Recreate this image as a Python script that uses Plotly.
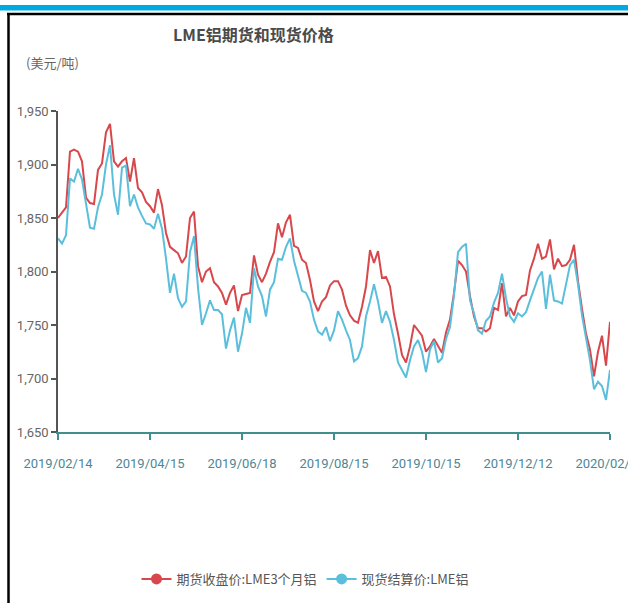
import plotly.graph_objects as go

# ---- data ----
futures_lme3m = [
    1850, 1855, 1860, 1912, 1914, 1912, 1903, 1869, 1864, 1863,
    1895, 1901, 1930, 1938, 1903, 1898, 1903, 1906, 1884, 1906,
    1878, 1874, 1865, 1861, 1855, 1877, 1862, 1836, 1823, 1820,
    1817, 1808, 1814, 1850, 1856, 1805, 1790, 1800, 1803, 1790,
    1786, 1780, 1769, 1780, 1787, 1763, 1778, 1779, 1780, 1815,
    1797, 1790, 1798, 1809, 1818, 1845, 1832, 1846, 1853, 1824,
    1822, 1811, 1808, 1792, 1772, 1763, 1772, 1776, 1787, 1791,
    1791, 1783, 1768, 1759, 1754, 1752, 1767, 1786, 1820, 1808,
    1819, 1794, 1795, 1786, 1760, 1742, 1722, 1715, 1730, 1750,
    1745, 1740, 1725, 1730, 1737, 1730, 1724, 1743, 1755, 1780,
    1810, 1806, 1800, 1777, 1758, 1747, 1747, 1744, 1747, 1766,
    1764, 1789, 1758, 1766, 1759, 1772, 1777, 1778, 1801, 1812,
    1826, 1812, 1814, 1830, 1802, 1812, 1805, 1806, 1811, 1825,
    1791, 1765, 1742, 1727, 1702, 1725, 1740, 1712, 1753,
]
spot_lme = [
    1831, 1826, 1834, 1887, 1884, 1896, 1886, 1864, 1841, 1840,
    1860, 1872, 1900, 1918, 1872, 1853, 1897, 1899, 1861, 1872,
    1860, 1852, 1845, 1844, 1840, 1854, 1840, 1812, 1780, 1798,
    1775, 1767, 1772, 1818, 1833, 1785, 1750, 1761, 1773, 1764,
    1764, 1760, 1728, 1745, 1757, 1725, 1742, 1766, 1752, 1803,
    1786, 1777, 1758, 1783, 1790, 1812, 1811, 1823, 1831, 1810,
    1797, 1782, 1780, 1772, 1755, 1744, 1741, 1748, 1735, 1745,
    1763, 1755, 1745, 1736, 1716, 1719, 1730, 1758, 1772, 1788,
    1772, 1752, 1763, 1753, 1736, 1715, 1708, 1701, 1717, 1730,
    1736, 1725, 1706, 1727, 1735, 1715, 1719, 1737, 1748, 1778,
    1818, 1823, 1826, 1773, 1761, 1745, 1742, 1754, 1758, 1771,
    1780, 1798, 1775, 1758, 1753, 1761, 1758, 1762, 1773, 1784,
    1794, 1800, 1765, 1797, 1773, 1772, 1770, 1788, 1806, 1811,
    1788, 1759, 1739, 1717, 1690, 1697, 1693, 1680, 1708,
]
tick_positions = [0, 23, 46, 69, 92, 115, 138]
tick_labels = ["2019/02/14", "2019/04/15", "2019/06/18", "2019/08/15",
               "2019/10/15", "2019/12/12", "2020/02/13"]
y_ticks = [1650, 1700, 1750, 1800, 1850, 1900, 1950]

series_names = ["期货收盘价:LME3个月铝", "现货结算价:LME铝"]
title_text = "LME铝期货和现货价格"
unit_text = "(美元/吨)"

RED = "#d8474b"
BLUE = "#5bbfdc"
CJK = "Noto Sans CJK SC"
NUM = "Roboto, sans-serif"

x_idx = list(range(len(futures_lme3m)))

fig = go.Figure()
for name, vals, col in [(series_names[0], futures_lme3m, RED),
                        (series_names[1], spot_lme, BLUE)]:
    fig.add_trace(go.Scatter(x=x_idx, y=vals, mode="lines", name=name,
                             line=dict(color=col, width=2), showlegend=False,
                             hoverinfo="x+y"))
for name, col in [(series_names[0], RED), (series_names[1], BLUE)]:
    fig.add_trace(go.Scatter(x=[None], y=[None], mode="lines+markers", name=name,
                             line=dict(color=col, width=2),
                             marker=dict(color=col, size=11)))

W, H = 628, 603
L, R, T, B = 58, 18, 111, 171
pw, ph = W - L - R, H - T - B


def px(x):
    return (x - L) / pw


def py(y):
    return (H - B - y) / ph


fig.update_layout(
    width=W, height=H,
    margin=dict(l=L, r=R, t=T, b=B, autoexpand=False),
    paper_bgcolor="white", plot_bgcolor="white",
    showlegend=True,
    legend=dict(orientation="h", x=px(305), xanchor="center", y=py(579), yanchor="middle",
                font=dict(family=CJK, size=13, color="#555555"),
                itemwidth=30, traceorder="normal", bgcolor="rgba(0,0,0,0)"),
    xaxis=dict(range=[0, 138], showgrid=False, zeroline=False,
               tickmode="array", tickvals=tick_positions, ticktext=tick_labels,
               showline=True, linecolor="#3f8f8f", linewidth=2,
               ticks="outside", ticklen=6, tickcolor="#3f8f8f", tickwidth=1.5,
               ticklabelstandoff=12, ticklabeloverflow="allow",
               tickfont=dict(family=NUM, size=13, color="#4d8796")),
    yaxis=dict(range=[1650, 1950], showgrid=False, zeroline=False,
               tickmode="array", tickvals=y_ticks, tickformat=",",
               showline=True, linecolor="#555555", linewidth=1.5,
               ticks="outside", ticklen=5, tickcolor="#555555", tickwidth=1.5,
               tickfont=dict(family=NUM, size=13, color="#666666")),
    annotations=[
        dict(text=title_text, xref="paper", yref="paper", x=px(253), y=py(34),
             xanchor="center", yanchor="middle", showarrow=False,
             font=dict(family=CJK, size=16, color="#4a4a4a", weight="bold")),
        dict(text=unit_text, xref="paper", yref="paper", x=px(24), y=py(62),
             xanchor="left", yanchor="middle", showarrow=False,
             font=dict(family=CJK, size=13, color="#666666")),
    ],
    shapes=[
        dict(type="rect", xref="paper", yref="paper", x0=px(0), x1=px(W + 2),
             y0=py(10.5), y1=py(5), fillcolor="#00a9e2", line=dict(width=0), layer="above"),
        dict(type="line", xref="paper", yref="paper", x0=px(7), x1=px(W + 2),
             y0=py(14), y1=py(14), line=dict(color="black", width=2.5), layer="above"),
        dict(type="line", xref="paper", yref="paper", x0=px(8.5), x1=px(8.5),
             y0=py(13), y1=py(H + 2), line=dict(color="black", width=2.5), layer="above"),
    ],
)

fig.write_html("out.html",
               config={"displayModeBar": False},
               post_script="document.body.style.margin='0';document.body.style.padding='0';")
